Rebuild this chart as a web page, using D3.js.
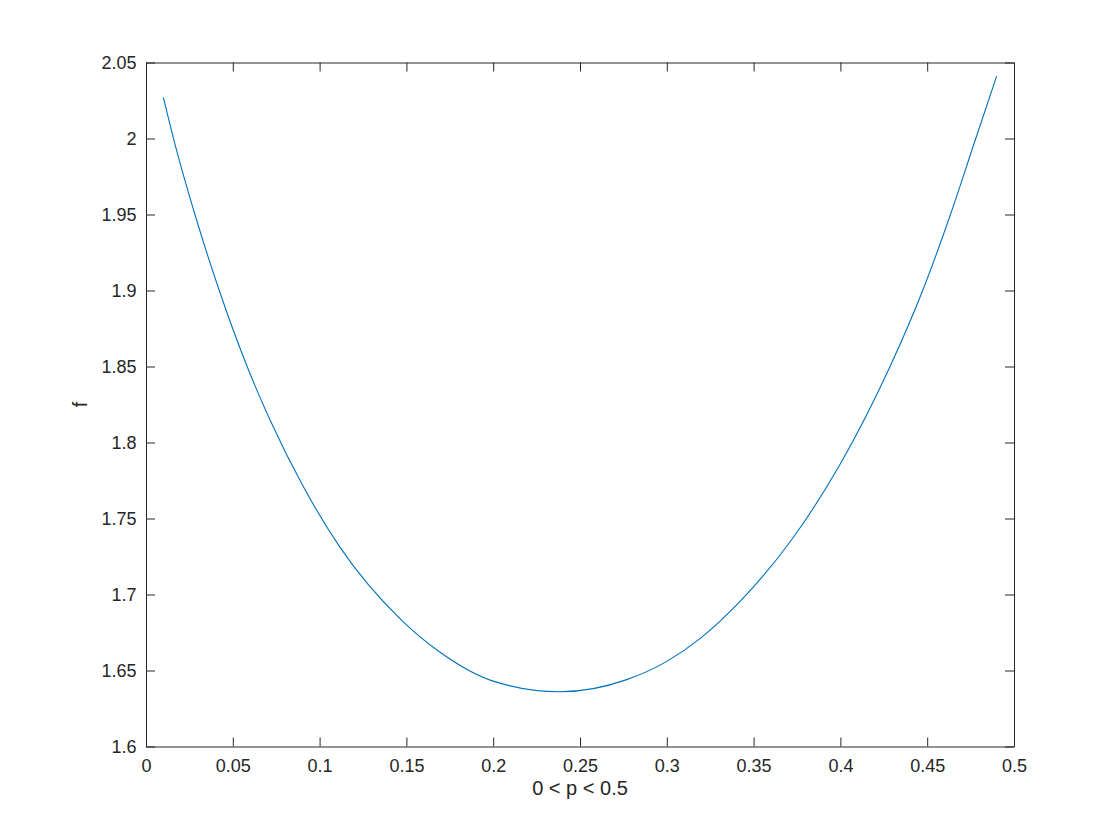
<!DOCTYPE html>
<html>
<head>
<meta charset="utf-8">
<script src="https://cdn.jsdelivr.net/npm/d3@7"></script>
<style>
  html, body { margin: 0; padding: 0; background: #fff; }
  svg { display: block; font-family: "Liberation Sans", Arial, Helvetica, sans-serif; }
  .axis path, .axis line { stroke: #262626; }
  .axis text { fill: #262626; font-size: 18px; }
</style>
</head>
<body>
<svg id="chart"></svg>
<script>
// values
const pVals = [0.01, 0.0163, 0.0282, 0.0422, 0.0593, 0.0714, 0.0906, 0.1118, 0.1473, 0.1694,
               0.2, 0.2385, 0.2769, 0.3, 0.3191, 0.3422, 0.3719, 0.4, 0.4286,
               0.4474, 0.4631, 0.4774, 0.49];
const fVals = [2.027, 1.998, 1.95, 1.9, 1.847, 1.815, 1.771, 1.731, 1.683, 1.662,
               1.643, 1.636, 1.644, 1.656, 1.671, 1.6955, 1.736, 1.786, 1.85,
               1.9, 1.949, 1.998, 2.041];

const xTicks = [0, 0.05, 0.1, 0.15, 0.2, 0.25, 0.3, 0.35, 0.4, 0.45, 0.5];
const xTickLabels = ["0", "0.05", "0.1", "0.15", "0.2", "0.25", "0.3", "0.35", "0.4", "0.45", "0.5"];
const yTicks = [1.6, 1.65, 1.7, 1.75, 1.8, 1.85, 1.9, 1.95, 2, 2.05];
const yTickLabels = ["1.6", "1.65", "1.7", "1.75", "1.8", "1.85", "1.9", "1.95", "2", "2.05"];

const xLabel = "0 < p < 0.5";
const yLabel = "f";

function draw() {
  const W = 1120, H = 840;
  const margin = {top: 62.5, right: 106, bottom: 93.5, left: 146},
        width = W - margin.left - margin.right,
        height = H - margin.top - margin.bottom;

  const data = pVals.map((p, i) => ({p: p, f: fVals[i]}));

  const x = d3.scaleLinear().domain([0, 0.5]).range([0, width]);
  const y = d3.scaleLinear().domain([1.6, 2.05]).range([height, 0]);

  const svg = d3.select("#chart").attr("width", W).attr("height", H);
  const chart = svg.append("g")
      .attr("transform", "translate(" + margin.left + "," + margin.top + ")");

  const tick = 9;

  // bottom + top
  chart.append("g")
      .attr("class", "axis")
      .attr("transform", "translate(0," + height + ")")
      .call(d3.axisBottom(x).tickValues(xTicks)
        .tickFormat((d, i) => xTickLabels[i])
        .tickSizeInner(-tick).tickSizeOuter(0).tickPadding(12.5));

  chart.append("g")
      .attr("class", "axis")
      .call(d3.axisTop(x).tickValues(xTicks).tickFormat("")
        .tickSizeInner(-tick).tickSizeOuter(0));

  // left + right
  chart.append("g")
      .attr("class", "axis")
      .call(d3.axisLeft(y).tickValues(yTicks)
        .tickFormat((d, i) => yTickLabels[i])
        .tickSizeInner(-tick).tickSizeOuter(0).tickPadding(9.5));

  chart.append("g")
      .attr("class", "axis")
      .attr("transform", "translate(" + width + ",0)")
      .call(d3.axisRight(y).tickValues(yTicks).tickFormat("")
        .tickSizeInner(-tick).tickSizeOuter(0));

  // the curve
  const line = d3.line()
      .x(d => x(d.p))
      .y(d => y(d.f))
      .curve(d3.curveMonotoneX);

  chart.append("path")
      .datum(data)
      .attr("d", line)
      .attr("fill", "none")
      .attr("stroke", "#0072BD")
      .attr("stroke-width", 1.1)
      .attr("stroke-linejoin", "round");

  // axis labels
  svg.append("text")
      .attr("x", margin.left + width / 2)
      .attr("y", 795)
      .attr("text-anchor", "middle")
      .attr("fill", "#262626")
      .style("font-size", "20px")
      .text(xLabel);

  svg.append("text")
      .attr("transform", "translate(87," + (margin.top + height / 2) + ") rotate(-90)")
      .attr("text-anchor", "middle")
      .attr("fill", "#262626")
      .style("font-size", "20px")
      .text(yLabel);
}

draw();
</script>
</body>
</html>
